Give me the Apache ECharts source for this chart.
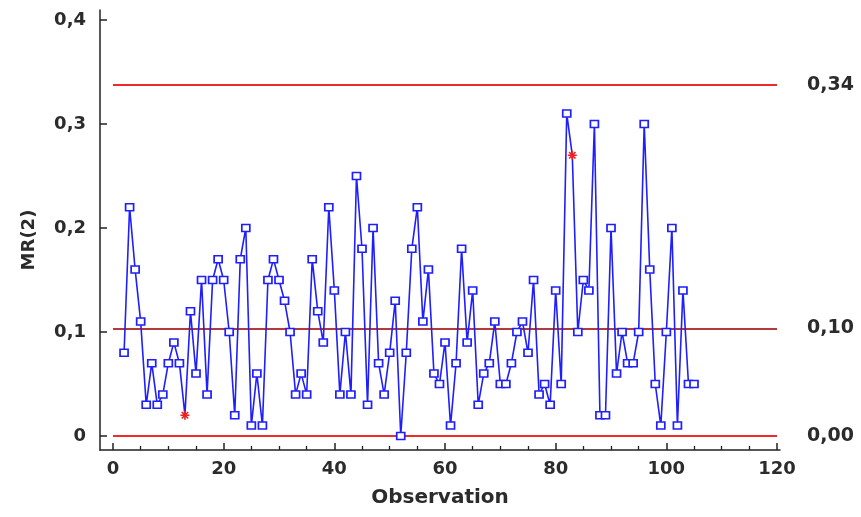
<!DOCTYPE html>
<html>
<head>
<meta charset="utf-8">
<script src="https://cdn.jsdelivr.net/npm/echarts@6/dist/echarts.min.js"></script>
<style>
  html, body { margin: 0; padding: 0; background: #ffffff; }
  #chart { width: 861px; height: 517px; }
</style>
</head>
<body>
<div id="chart"></div>
<script>
// Moving ranges of span 2; the first range belongs to observation 2
const firstObs = 2;
const mrValues = [
  0.08, 0.22, 0.16, 0.11, 0.03, 0.07, 0.03, 0.04, 0.07, 0.09,
  0.07, 0.02, 0.12, 0.06, 0.15, 0.04, 0.15, 0.17, 0.15, 0.10,
  0.02, 0.17, 0.20, 0.01, 0.06, 0.01, 0.15, 0.17, 0.15, 0.13,
  0.10, 0.04, 0.06, 0.04, 0.17, 0.12, 0.09, 0.22, 0.14, 0.04,
  0.10, 0.04, 0.25, 0.18, 0.03, 0.20, 0.07, 0.04, 0.08, 0.13,
  0.00, 0.08, 0.18, 0.22, 0.11, 0.16, 0.06, 0.05, 0.09, 0.01,
  0.07, 0.18, 0.09, 0.14, 0.03, 0.06, 0.07, 0.11, 0.05, 0.05,
  0.07, 0.10, 0.11, 0.08, 0.15, 0.04, 0.05, 0.03, 0.14, 0.05,
  0.31, 0.27, 0.10, 0.15, 0.14, 0.30, 0.02, 0.02, 0.20, 0.06,
  0.10, 0.07, 0.07, 0.10, 0.30, 0.16, 0.05, 0.01, 0.10, 0.20,
  0.01, 0.14, 0.05, 0.05
];
// Observations excluded from the limit estimate (drawn as asterisks)
const flaggedObs = [13, 83];

// Tick positions and labels
const xMajorTicks = [0, 20, 40, 60, 80, 100, 120];
const xMinorTicks = [5, 10, 15, 25, 30, 35, 45, 50, 55, 65, 70, 75, 85, 90, 95, 105, 110, 115];
const yTickValues = [0, 0.1, 0.2, 0.3, 0.4];

// Axis extents: the frame leaves a small margin around 0..120 and 0..0.4
const xRange = [-2.35, 120.54];
const yRange = [-0.01346, 0.40962];

// Control limits for MR(2): centre = mean MR, UCL = D4 * mean MR
const D4 = 3.267;
const meanMR = mrValues.reduce((s, v) => s + v, 0) / mrValues.length;
const limits = [
  { name: 'UCL', value: D4 * meanMR, color: '#ee2a2a' },
  { name: 'CL', value: meanMR, color: '#b23a3a' },
  { name: 'LCL', value: 0, color: '#ee2a2a' }
];

const comma = (v, d) => v.toFixed(d).replace('.', ',');
const FONT = 'DejaVu Sans';
const TEXT = '#2b2b2b';
const AXIS = '#222222';

const asterisk = 'path://M5,0L5,10M0,5L10,5M1.4,1.4L8.6,8.6M8.6,1.4L1.4,8.6';

const points = mrValues.map((v, i) => {
  const obs = firstObs + i;
  if (flaggedObs.includes(obs)) {
    return {
      value: [obs, v],
      symbol: asterisk,
      symbolSize: 9,
      itemStyle: { color: '#ee2020', borderColor: '#ee2020', borderWidth: 1.6 }
    };
  }
  return { value: [obs, v] };
});

const chart = echarts.init(document.getElementById('chart'), null, { renderer: 'canvas' });

chart.setOption({
  animation: false,
  backgroundColor: '#ffffff',
  grid: { left: 100, right: 81, top: 10, bottom: 67, containLabel: false, outerBoundsMode: 'none' },
  xAxis: [
    {
      type: 'value',
      position: 'bottom',
      min: xRange[0], max: xRange[1],
      axisLine: { show: true, onZero: false, lineStyle: { color: AXIS, width: 1.5 } },
      axisTick: { show: true, inside: true, length: 7, customValues: xMajorTicks, lineStyle: { color: AXIS, width: 1.5 } },
      splitLine: { show: false },
      axisLabel: {
        customValues: xMajorTicks,
        margin: 10, color: TEXT, fontFamily: FONT, fontWeight: 'bold', fontSize: 18
      },
      name: 'Observation',
      nameLocation: 'middle',
      nameGap: 38,
      nameTextStyle: { color: TEXT, fontFamily: FONT, fontWeight: 'bold', fontSize: 20 }
    },
    {
      // minor ticks only
      type: 'value',
      position: 'bottom',
      min: xRange[0], max: xRange[1],
      axisLine: { show: false, onZero: false },
      axisTick: { show: true, inside: true, length: 4, customValues: xMinorTicks, lineStyle: { color: AXIS, width: 1.3 } },
      axisLabel: { show: false },
      splitLine: { show: false }
    }
  ],
  yAxis: {
    type: 'value',
    position: 'left',
    min: yRange[0], max: yRange[1],
    axisLine: { show: true, onZero: false, lineStyle: { color: AXIS, width: 1.5 } },
    axisTick: { show: true, inside: true, length: 7, customValues: yTickValues, lineStyle: { color: AXIS, width: 1.5 } },
    splitLine: { show: false },
    axisLabel: {
      customValues: yTickValues,
      margin: 14, color: TEXT, fontFamily: FONT, fontWeight: 'bold', fontSize: 18,
      formatter: v => (v === 0 ? '0' : comma(v, 1))
    },
    name: 'MR(2)',
    nameLocation: 'middle',
    nameGap: 62,
    nameTextStyle: { color: TEXT, fontFamily: FONT, fontWeight: 'bold', fontSize: 18, padding: [0, 20, 0, 0] }
  },
  series: [
    {
      type: 'line',
      xAxisIndex: 0, yAxisIndex: 0,
      data: points,
      showAllSymbol: true,
      symbol: 'rect',
      symbolSize: [8, 7],
      lineStyle: { color: '#1e1eff', width: 1.6 },
      itemStyle: { color: '#ffffff', borderColor: '#1e1eff', borderWidth: 1.6 },
      z: 5,
      markLine: {
        silent: true,
        symbol: ['none', 'none'],
        precision: 4,
        data: limits.map(l => [
          {
            coord: [xMajorTicks[0], l.value],
            lineStyle: { color: l.color, width: 1.8, type: 'solid' },
            label: {
              show: true,
              position: 'end',
              distance: 30,
              formatter: () => comma(l.value, 2),
              color: TEXT,
              fontFamily: FONT,
              fontWeight: 'bold',
              fontSize: 19
            }
          },
          { coord: [xMajorTicks[xMajorTicks.length - 1], l.value] }
        ])
      }
    }
  ]
});
</script>
</body>
</html>
